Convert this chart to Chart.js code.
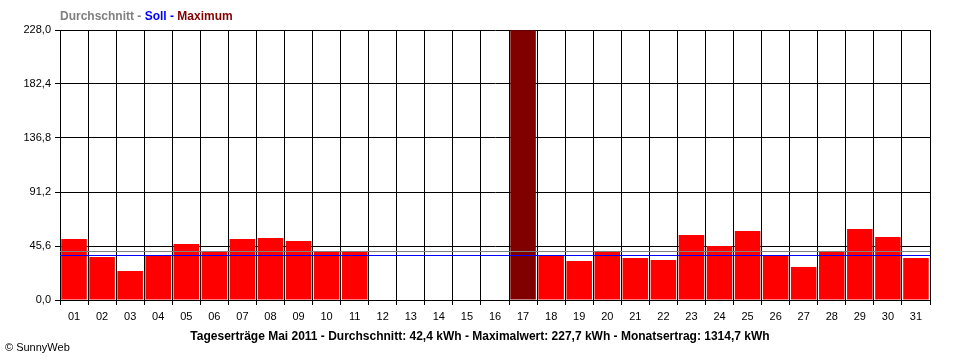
<!DOCTYPE html>
<html>
<head>
<meta charset="utf-8">
<script src="https://cdn.jsdelivr.net/npm/chart.js@4"></script>
<style>
  body { margin: 0; background: #fff; }
  #wrap { position: relative; width: 960px; height: 360px; }
  #head { position: absolute; left: 60px; top: 9px; font: bold 12px "Liberation Sans", Arial, sans-serif; white-space: nowrap; }
  #caption { position: absolute; left: 0; width: 960px; top: 329px; text-align: center; font: bold 12px "Liberation Sans", Arial, sans-serif; white-space: nowrap; }
  #copy { position: absolute; left: 5px; top: 341px; font: 11px "Liberation Sans", Arial, sans-serif; }
</style>
</head>
<body>
<div id="wrap">
  <canvas id="chart" width="960" height="360"></canvas>
  <div id="head"><span style="color:#808080">Durchschnitt - </span><span style="color:#0000ff">Soll - </span><span style="color:#800000">Maximum</span></div>
  <div id="caption">Tageserträge Mai 2011 - Durchschnitt: 42,4 kWh - Maximalwert: 227,7 kWh - Monatsertrag: 1314,7 kWh</div>
  <div id="copy">© SunnyWeb</div>
</div>
<script>
// days of the month
const days = ['01','02','03','04','05','06','07','08','09','10','11','12','13','14','15','16',
  '17','18','19','20','21','22','23','24','25','26','27','28','29','30','31'];
// daily yield in kWh
const yields = [51.5, 36.3, 24.5, 38.0, 47.3, 40.8, 51.5, 52.4, 49.8, 40.8, 40.8, 0, 0, 0, 0, 0,
  227.7, 38.0, 33.0, 40.8, 35.5, 33.8, 54.9, 45.6, 58.3, 38.0, 27.9, 40.8, 60.0, 53.2, 35.5];
const yTicks = [0, 45.6, 91.2, 136.8, 182.4, 228.0];
const avgLine = 41.4;   // Durchschnitt (grey)
const sollLine = 38.0;  // Soll (blue)

const FONT = { family: '"Liberation Sans", Arial, sans-serif', size: 11 };
const maxValue = Math.max(...yields);

// grey and blue reference lines across the whole plot
const refLines = {
  id: 'refLines',
  afterDatasetsDraw(chart) {
    const { ctx, chartArea, scales } = chart;
    [[avgLine, '#808080'], [sollLine, '#0000ff']].forEach(([v, color]) => {
      const y = Math.round(scales.y.getPixelForValue(v)) + 0.5;
      ctx.save();
      ctx.strokeStyle = color;
      ctx.lineWidth = 1;
      ctx.beginPath();
      ctx.moveTo(chartArea.left, y);
      ctx.lineTo(chartArea.right, y);
      ctx.stroke();
      ctx.restore();
    });
  }
};

new Chart(document.getElementById('chart'), {
  type: 'bar',
  data: {
    labels: days,
    datasets: [{
      data: yields,
      backgroundColor: yields.map(v => v === maxValue ? '#800000' : '#ff0000'),
      borderWidth: 0,
      barPercentage: 0.91,
      categoryPercentage: 1.0
    }]
  },
  options: {
    responsive: false,
    animation: false,
    layout: { padding: { top: 30, right: 30, left: 0, bottom: 0 } },
    plugins: { legend: { display: false }, tooltip: { enabled: false } },
    scales: {
      x: {
        grid: { color: '#000', lineWidth: 1, tickLength: 5, offset: true },
        border: { color: '#000' },
        ticks: { color: '#000', font: FONT, padding: 5, maxRotation: 0 },
        afterFit: s => { s.height = 60; }
      },
      y: {
        min: 0,
        max: 228,
        grid: { color: '#000', lineWidth: 1, tickLength: 5 },
        border: { color: '#000' },
        ticks: {
          color: '#000',
          font: FONT,
          padding: 4,
          callback: v => v.toFixed(1).replace('.', ',')
        },
        afterBuildTicks: s => { s.ticks = yTicks.map(v => ({ value: v })); },
        afterFit: s => { s.width = 60; }
      }
    }
  },
  plugins: [refLines]
});
</script>
</body>
</html>
